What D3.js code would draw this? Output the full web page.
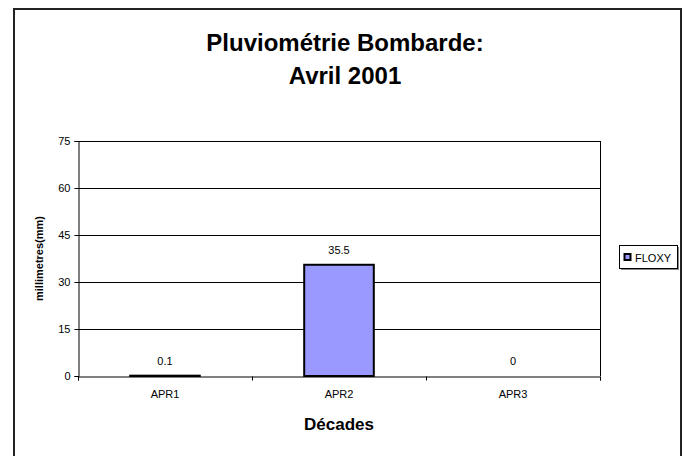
<!DOCTYPE html>
<html>
<head>
<meta charset="utf-8">
<script src="https://cdn.jsdelivr.net/npm/d3@7"></script>
<style>
body { margin: 0; background: #fff; }
text { font-family: "Liberation Sans", Arial, sans-serif; fill: #000; }
</style>
</head>
<body>
<script>
const w = 690;
const h = 456;

const categories = ["APR1", "APR2", "APR3"];
const values = [0.1, 35.5, 0];
const yTicks = [0, 15, 30, 45, 60, 75];
const seriesName = "FLOXY";

const plotLeft = 78, plotRight = 600, plotTop = 141, plotBottom = 376;

const xScale = d3.scaleBand()
                 .domain(categories)
                 .range([plotLeft, plotRight])
                 .paddingInner(0.6)
                 .paddingOuter(0.3);

const yScale = d3.scaleLinear()
                 .domain([0, 75])
                 .range([plotBottom, plotTop]);

const svg = d3.select("body")
              .append("svg")
              .attr("width", w)
              .attr("height", h);

// outer chart frame (bottom edge runs off the picture)
svg.append("rect")
   .attr("x", 14).attr("y", 9)
   .attr("width", 667).attr("height", 460)
   .attr("fill", "#fff")
   .attr("stroke", "#222")
   .attr("stroke-width", 2);

// title
svg.append("text")
   .attr("x", 345).attr("y", 51)
   .attr("text-anchor", "middle")
   .attr("font-size", 24).attr("font-weight", "bold")
   .text("Pluviométrie Bombarde:");
svg.append("text")
   .attr("x", 345).attr("y", 84)
   .attr("text-anchor", "middle")
   .attr("font-size", 24).attr("font-weight", "bold")
   .text("Avril 2001");

// gridlines
svg.append("g")
   .selectAll("line")
   .data(yTicks.filter(d => d > 0))
   .enter()
   .append("line")
   .attr("x1", plotLeft).attr("x2", plotRight)
   .attr("y1", d => Math.round(yScale(d)) + 0.5)
   .attr("y2", d => Math.round(yScale(d)) + 0.5)
   .attr("stroke", "#000");

// plot area right border
svg.append("line")
   .attr("x1", plotRight + 0.5).attr("x2", plotRight + 0.5)
   .attr("y1", plotTop).attr("y2", plotBottom)
   .attr("stroke", "#000");

// bars
svg.selectAll(".bar")
   .data(values)
   .enter()
   .append("rect")
   .attr("class", "bar")
   .attr("x", (d, i) => xScale(categories[i]))
   .attr("y", d => yScale(d))
   .attr("width", xScale.bandwidth())
   .attr("height", d => plotBottom - yScale(d))
   .attr("fill", "#9999FF")
   .attr("stroke", "#000")
   .attr("stroke-width", d => d > 0 ? 2 : 0);

// data labels
svg.selectAll(".lbl")
   .data(values)
   .enter()
   .append("text")
   .attr("class", "lbl")
   .attr("x", (d, i) => xScale(categories[i]) + xScale.bandwidth() / 2)
   .attr("y", d => yScale(d) - 11)
   .attr("text-anchor", "middle")
   .attr("font-size", 11)
   .text(d => d);

// axes
const yAxis = d3.axisLeft(yScale).tickValues(yTicks).tickSize(4).tickPadding(4);
const gy = svg.append("g")
   .attr("transform", "translate(" + (plotLeft + 0.5) + ",0)")
   .call(yAxis);
gy.select(".domain").attr("stroke", "#000");
gy.selectAll("line").attr("stroke", "#000");
gy.selectAll("text").attr("font-size", 11).attr("font-family", "Liberation Sans, Arial, sans-serif").attr("fill", "#000");

const xEdges = d3.scaleLinear().domain([0, categories.length]).range([plotLeft, plotRight]);
const xAxis = d3.axisBottom(xEdges).tickValues([0, 1, 2, 3]).tickSize(4).tickFormat("");
const gx = svg.append("g")
   .attr("transform", "translate(0," + (plotBottom + 0.5) + ")")
   .call(xAxis);
gx.select(".domain").attr("stroke", "#000");
gx.selectAll("line").attr("stroke", "#000");

svg.append("g")
   .selectAll("text")
   .data(categories)
   .enter()
   .append("text")
   .attr("x", d => xScale(d) + xScale.bandwidth() / 2)
   .attr("y", plotBottom + 22)
   .attr("text-anchor", "middle")
   .attr("font-size", 11)
   .text(d => d);

// axis titles
svg.append("text")
   .attr("x", 339).attr("y", 430)
   .attr("text-anchor", "middle")
   .attr("font-size", 17).attr("font-weight", "bold")
   .text("Décades");

svg.append("text")
   .attr("transform", "translate(43," + ((plotTop + plotBottom) / 2) + ") rotate(-90)")
   .attr("text-anchor", "middle")
   .attr("font-size", 11).attr("font-weight", "bold")
   .text("millimetres(mm)");

// legend
const lg = svg.append("g").attr("transform", "translate(620,246)");
lg.append("rect")
  .attr("x", 1).attr("y", 1).attr("width", 58).attr("height", 23)
  .attr("fill", "#888");
lg.append("rect")
  .attr("x", -0.5).attr("y", -0.5).attr("width", 58).attr("height", 23)
  .attr("fill", "#fff").attr("stroke", "#000");
lg.append("rect")
  .attr("x", 4.5).attr("y", 8).attr("width", 6).attr("height", 6)
  .attr("fill", "#9999FF").attr("stroke", "#000").attr("stroke-width", 2);
lg.append("text")
  .attr("x", 15).attr("y", 15.5)
  .attr("font-size", 11)
  .text(seriesName);
</script>
</body>
</html>
